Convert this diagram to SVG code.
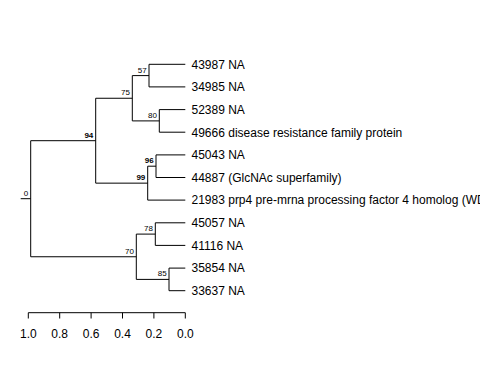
<svg xmlns="http://www.w3.org/2000/svg" width="480" height="384" viewBox="0 0 480 384">
<style>
.e{stroke:#000;stroke-width:1;fill:none}
.leaf{font-family:"Liberation Sans",Arial,sans-serif;font-size:12px;fill:#000}
.bs{font-family:"Liberation Sans",Arial,sans-serif;font-size:8px;fill:#000;text-anchor:end}
.b{font-weight:bold}
.tk{font-family:"Liberation Sans",Arial,sans-serif;font-size:12px;fill:#000;text-anchor:middle}
</style>
<rect width="480" height="384" fill="#fff"/>
<g id="connectors">
<path class="e" d="M20.7 198.7H30.7M30.7 140.7V256.75M30.7 140.7H95.7M30.7 256.75H136.3"/>
<path class="e" d="M95.7 98.25V183.15M95.7 98.25H132.3M95.7 183.15H147.7"/>
<path class="e" d="M132.3 75.6V120.9M132.3 75.6H149M132.3 120.9H159.3"/>
<path class="e" d="M149 64.3V86.9M149 64.3H185.3M149 86.9H185.3"/>
<path class="e" d="M159.3 109.6V132.2M159.3 109.6H185.3M159.3 132.2H185.3"/>
<path class="e" d="M147.7 166.2V200.1M147.7 166.2H156M147.7 200.1H185.3"/>
<path class="e" d="M156 154.9V177.5M156 154.9H185.3M156 177.5H185.3"/>
<path class="e" d="M136.3 234.1V279.4M136.3 234.1H155.3M136.3 279.4H169"/>
<path class="e" d="M155.3 222.8V245.4M155.3 222.8H185.3M155.3 245.4H185.3"/>
<path class="e" d="M169 268.1V290.7M169 268.1H185.3M169 290.7H185.3"/>
</g>
<g id="bootstrap">
<text class="bs" x="28.3" y="195.7">0</text>
<text class="bs b" x="93.3" y="137.7">94</text>
<text class="bs" x="129.9" y="95.25">75</text>
<text class="bs" x="146.6" y="72.6">57</text>
<text class="bs" x="156.9" y="117.9">80</text>
<text class="bs b" x="145.3" y="180.15">99</text>
<text class="bs b" x="153.6" y="163.2">96</text>
<text class="bs" x="133.9" y="253.75">70</text>
<text class="bs" x="152.9" y="231.1">78</text>
<text class="bs" x="166.6" y="276.4">85</text>
</g>
<g id="n43987"><text class="leaf" x="191.5" y="68.6">43987 NA</text></g>
<g id="n34985"><text class="leaf" x="191.5" y="91.2">34985 NA</text></g>
<g id="n52389"><text class="leaf" x="191.5" y="113.9">52389 NA</text></g>
<g id="n49666"><text class="leaf" x="191.5" y="136.5">49666 disease resistance family protein</text></g>
<g id="n45043"><text class="leaf" x="191.5" y="159.2">45043 NA</text></g>
<g id="n44887"><text class="leaf" x="191.5" y="181.8">44887 (GlcNAc superfamily)</text></g>
<g id="n21983"><text class="leaf" x="191.5" y="204.4">21983 prp4 pre-mrna processing factor 4 homolog (WD</text></g>
<g id="n45057"><text class="leaf" x="191.5" y="227.1">45057 NA</text></g>
<g id="n41116"><text class="leaf" x="191.5" y="249.7">41116 NA</text></g>
<g id="n35854"><text class="leaf" x="191.5" y="272.4">35854 NA</text></g>
<g id="n33637"><text class="leaf" x="191.5" y="295">33637 NA</text></g>
<g id="axis">
<path class="e" d="M28.3 312.7H185.3M28.3 312.7V318.5M59.7 312.7V318.5M91.1 312.7V318.5M122.5 312.7V318.5M153.9 312.7V318.5M185.3 312.7V318.5"/>
<text class="tk" x="28.3" y="337.5">1.0</text>
<text class="tk" x="59.7" y="337.5">0.8</text>
<text class="tk" x="91.1" y="337.5">0.6</text>
<text class="tk" x="122.5" y="337.5">0.4</text>
<text class="tk" x="153.9" y="337.5">0.2</text>
<text class="tk" x="185.3" y="337.5">0.0</text>
</g>
</svg>
